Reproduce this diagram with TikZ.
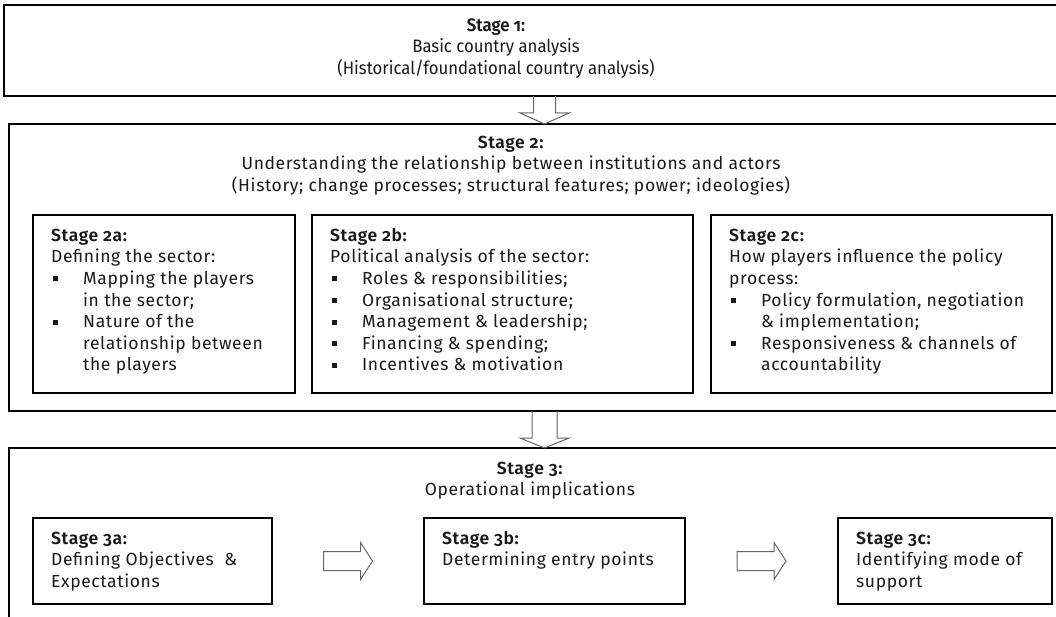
\documentclass[tikz,border=0pt]{standalone}
\usepackage{fontspec}
\setmainfont{Fira Sans}[Numbers=OldStyle, LetterSpace=3.5, BoldFont={Fira Sans SemiBold}]
\newfontfamily\narrowfont{Fira Sans}[Numbers=OldStyle, FakeStretch=0.93, BoldFont={Fira Sans SemiBold}]
\usetikzlibrary{calc}
\tikzset{
  stagebox/.style={draw, line width=2.6pt, inner sep=0pt, outer sep=0pt},
  subbox/.style={draw, line width=1.8pt, inner sep=0pt, outer sep=0pt},
  txt/.style={inner sep=0pt, text=black!90, font=\fontsize{17.5}{21.6}\selectfont},
  headtxt/.style={txt, align=center, anchor=north},
  hollow/.style={draw=black!60, line width=1pt},
  rarrow/.pic={\draw[hollow] (-24.5,-9.5) -- (12.5,-9.5) -- (12.5,-18.5) -- (24.5,0)
    -- (12.5,18.5) -- (12.5,9.5) -- (-24.5,9.5) -- cycle;}
}
\newcommand{\fl}{\rule{0pt}{15pt}}
\newcommand{\bul}{\makebox[32pt][l]{\hspace{2pt}\rule[3pt]{5pt}{5pt}}}
\newcommand{\ind}{\hspace*{32pt}}

\begin{document}
\begin{tikzpicture}[x=1pt, y=-1pt]
    \useasboundingbox (0,0) rectangle (1056,617);
    \clip (0,0) rectangle (1056,617);
    % stage boxes
    \node[stagebox, anchor=north west, minimum width=1081, minimum height=91] (s1) at (4,5) {};
    \node[stagebox, anchor=north west, minimum width=1071, minimum height=287] (s2) at (9,124) {};
    \node[stagebox, anchor=north west, minimum width=1071, minimum height=200] (s3) at (9,448) {};
    \node[headtxt, font=\narrowfont\fontsize{18}{21.6}\selectfont] (t1) at (496,16) {\fl\textbf{Stage 1:}\\Basic country analysis\\(Historical/foundational country analysis)};
    \node[headtxt] (t2) at (511,133) {\fl\textbf{Stage 2:}\\Understanding the relationship between institutions and actors\\(History; change processes; structural features; power; ideologies)};
    \node[headtxt] (t3) at (530,459) {\fl\textbf{Stage 3:}\\Operational implications};
    % stage 2 parts
    \node[subbox, anchor=north west, minimum width=262, minimum height=178] (s2a) at (33,215) {};
    \node[subbox, anchor=north west, minimum width=381, minimum height=178] (s2b) at (312,215) {};
    \node[subbox, anchor=north west, minimum width=341, minimum height=178] (s2c) at (711,215) {};
    \node[txt, align=left, anchor=north west] (t2a) at ($(s2a.north west)+(18,11)$) {\fl\textbf{Stage 2a:}\\Defining the sector:\\\bul Mapping the players\\\ind in the sector;\\\bul Nature of the\\\ind relationship between\\\ind the players};
    \node[txt, align=left, anchor=north west] (t2b) at ($(s2b.north west)+(18,11)$) {\fl\textbf{Stage 2b:}\\Political analysis of the sector:\\\bul Roles \& responsibilities;\\\bul Organisational structure;\\\bul Management \& leadership;\\\bul Financing \& spending;\\\bul Incentives \& motivation};
    \node[txt, align=left, anchor=north west] (t2c) at ($(s2c.north west)+(18,11)$) {\fl\textbf{Stage 2c:}\\How players influence the policy\\process:\\\bul Policy formulation, negotiation\\\ind\& implementation;\\\bul Responsiveness \& channels of\\\ind accountability};
    % stage 3 parts
    \node[subbox, anchor=north west, minimum width=239, minimum height=86] (s3a) at (33,518) {};
    \node[subbox, anchor=north west, minimum width=261, minimum height=86] (s3b) at (424,518) {};
    \node[subbox, anchor=north west, minimum width=214, minimum height=86] (s3c) at (838,518) {};
    \node[txt, align=left, anchor=north west] (t3a) at ($(s3a.north west)+(18,11)$) {\fl\textbf{Stage 3a:}\\Defining Objectives~ \&\\Expectations};
    \node[txt, align=left, anchor=north west] (t3b) at ($(s3b.north west)+(18,11)$) {\fl\textbf{Stage 3b:}\\Determining entry points};
    \node[txt, align=left, anchor=north west] (t3c) at ($(s3c.north west)+(18,11)$) {\fl\textbf{Stage 3c:}\\Identifying mode of\\support};
    % arrows
    \draw[hollow] ($(s1.south)+(-11,0)$) |- ($(s2.north)+(-24.5,-11)$) -- (s2.north)
        -- ($(s2.north)+(24.5,-11)$) -| ($(s1.south)+(11,0)$);
    \draw[hollow] ($(s2.south)+(-12.5,0)$) |- ($(s3.north)+(-24.5,-10)$) -- (s3.north)
        -- ($(s3.north)+(24.5,-10)$) -| ($(s2.south)+(12.5,0)$);
    \pic (a1) at ($(s3a.east)!.5!(s3b.west)$) {rarrow};
    \pic (a2) at ($(s3b.east)!.5!(s3c.west)$) {rarrow};
\end{tikzpicture}
\end{document}
